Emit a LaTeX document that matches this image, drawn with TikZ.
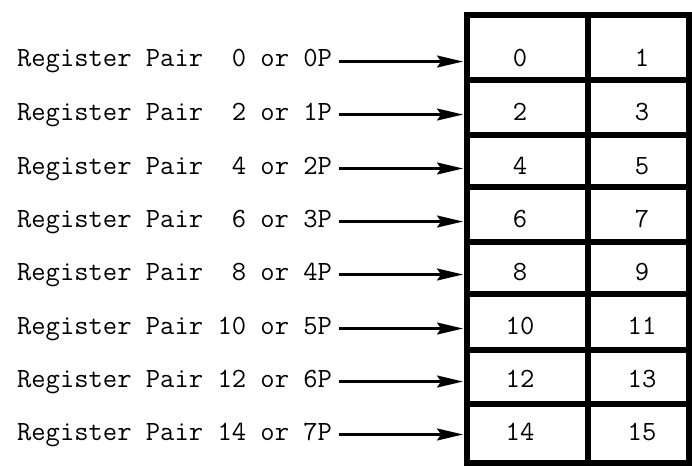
\documentclass[tikz,border=0pt]{standalone}
\usetikzlibrary{positioning,calc,arrows,arrows.meta}

\begin{document}
\begin{tikzpicture}
	\begin{scope}[x=0.5pt, y=-0.5pt]
		\tikzstyle{every node}=[font=\ttfamily\fontsize{13.9}{16}\selectfont]
		\tikzstyle{pair}=[anchor=base west]
		\tikzstyle{cell}=[anchor=base]
		\tikzstyle{regline}=[line width=3pt]
		\tikzstyle{ptr}=[line width=1.1pt, -{Stealth[length=13pt, width=6pt, inset=2pt]}]

		\useasboundingbox (0, 0) rectangle (692, 466);

		% register pair labels
		\node[pair] (lp0) at (10, 67)  {Register Pair \phantom{1}0 or 0P};
		\node[pair] (lp1) at (10, 120) {Register Pair \phantom{1}2 or 1P};
		\node[pair] (lp2) at (10, 174) {Register Pair \phantom{1}4 or 2P};
		\node[pair] (lp3) at (10, 227) {Register Pair \phantom{1}6 or 3P};
		\node[pair] (lp4) at (10, 280) {Register Pair \phantom{1}8 or 4P};
		\node[pair] (lp5) at (10, 334) {Register Pair 10 or 5P};
		\node[pair] (lp6) at (10, 387) {Register Pair 12 or 6P};
		\node[pair] (lp7) at (10, 440) {Register Pair 14 or 7P};

		% register cells
		\node[cell] (r0)  at (520, 67)  {0};
		\node[cell] (r1)  at (642, 67)  {1};
		\node[cell] (r2)  at (520, 120) {2};
		\node[cell] (r3)  at (642, 120) {3};
		\node[cell] (r4)  at (520, 174) {4};
		\node[cell] (r5)  at (642, 174) {5};
		\node[cell] (r6)  at (520, 227) {6};
		\node[cell] (r7)  at (642, 227) {7};
		\node[cell] (r8)  at (520, 280) {8};
		\node[cell] (r9)  at (642, 280) {9};
		\node[cell] (r10) at (520, 334) {10};
		\node[cell] (r11) at (642, 334) {11};
		\node[cell] (r12) at (520, 387) {12};
		\node[cell] (r13) at (642, 387) {13};
		\node[cell] (r14) at (520, 440) {14};
		\node[cell] (r15) at (642, 440) {15};

		% grid of the register file
		\draw [regline] (467, 15) rectangle (689, 463);
		\draw [regline] (588, 15) -- (588, 463);
		\draw [regline] (467, 80)  -- (689, 80);
		\draw [regline] (467, 135) -- (689, 135);
		\draw [regline] (467, 187) -- (689, 187);
		\draw [regline] (467, 242) -- (689, 242);
		\draw [regline] (467, 294) -- (689, 294);
		\draw [regline] (467, 350) -- (689, 350);
		\draw [regline] (467, 404) -- (689, 404);

		\coordinate (gl) at (463, 0);

		\draw [ptr] (lp0) -- (lp0 -| gl);
		\draw [ptr] (lp1) -- (lp1 -| gl);
		\draw [ptr] (lp2) -- (lp2 -| gl);
		\draw [ptr] (lp3) -- (lp3 -| gl);
		\draw [ptr] (lp4) -- (lp4 -| gl);
		\draw [ptr] (lp5) -- (lp5 -| gl);
		\draw [ptr] (lp6) -- (lp6 -| gl);
		\draw [ptr] (lp7) -- (lp7 -| gl);
	\end{scope}
\end{tikzpicture}
\end{document}
